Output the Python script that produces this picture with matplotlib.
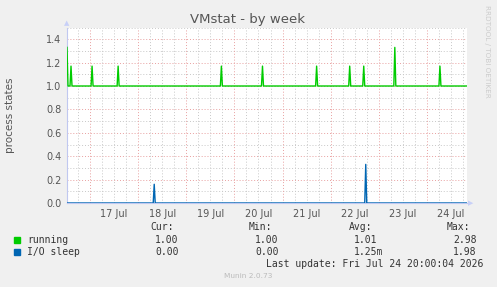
import pandas as pd
import matplotlib
matplotlib.use("Agg")
import matplotlib.pyplot as plt
import matplotlib.dates as mdates

W, H = 497, 287

# sampled every 30 minutes, baseline values with a few short spikes
start = "2026-07-16 12:30"
end = "2026-07-24 20:00"
running_base = 1.0
running_spike_times = ["2026-07-16 12:30", "2026-07-16 14:30", "2026-07-17 01:00",
                       "2026-07-17 14:00", "2026-07-19 17:30", "2026-07-20 14:00",
                       "2026-07-21 17:00", "2026-07-22 09:30", "2026-07-22 16:30",
                       "2026-07-23 08:00", "2026-07-24 06:30"]
running_spike_vals = [1.33, 1.17, 1.17, 1.17, 1.17, 1.17, 1.17, 1.17, 1.17, 1.33, 1.17]
io_base = 0.0
io_spike_times = ["2026-07-18 08:00", "2026-07-22 17:30"]
io_spike_vals = [0.16, 0.33]

day_labels = ["17 Jul", "18 Jul", "19 Jul", "20 Jul", "21 Jul", "22 Jul", "23 Jul", "24 Jul"]
day_dates = ["2026-07-17", "2026-07-18", "2026-07-19", "2026-07-20",
             "2026-07-21", "2026-07-22", "2026-07-23", "2026-07-24"]

legend_names = ["running", "I/O sleep"]
legend_colors = ["#00CC00", "#0066B3"]
cur_vals = ["1.00", "0.00"]
min_vals = ["1.00", "0.00"]
avg_vals = ["1.01", "1.25m"]
max_vals = ["2.98", "1.98"]

# build the series
t = pd.date_range(start, end, freq="30min")
running = pd.Series(running_base, index=t)
running[pd.to_datetime(running_spike_times)] = running_spike_vals
io = pd.Series(io_base, index=t)
io[pd.to_datetime(io_spike_times)] = io_spike_vals


def fx(x):
    return x / W


def fy(y):
    return 1 - y / H


fig = plt.figure(figsize=(W / 100, H / 100), dpi=100, facecolor="#F0F0F0")
ax = fig.add_axes([fx(67), fy(203), (467 - 67) / W, (203 - 27.5) / H])
ax.set_facecolor("white")

x0 = pd.Timestamp(start)
x1 = pd.Timestamp(end)
ax.set_xlim(x0, x1)
ax.set_ylim(0, 1.5)

# grid: minor gray, major red
for v in [0.1, 0.3, 0.5, 0.7, 0.9, 1.1, 1.3, 1.5]:
    ax.axhline(v, color="#C8C8C8", lw=0.7, ls=(0, (1, 2)), zorder=1)
for v in [0.2, 0.4, 0.6, 0.8, 1.0, 1.2, 1.4]:
    ax.axhline(v, color="#E8A0A0", lw=0.7, ls=(0, (1, 2)), zorder=1)
for ts in pd.date_range("2026-07-16 18:00", end, freq="6h"):
    c = "#E8A0A0" if ts.hour == 0 else "#C8C8C8"
    ax.axvline(ts, color=c, lw=0.7, ls=(0, (1, 2)), zorder=1)

ax.plot(running.index, running.values, color=legend_colors[0], lw=1.0, zorder=3)
ax.plot(io.index, io.values, color=legend_colors[1], lw=1.0, zorder=3)

# ticks
noon = [pd.Timestamp(d) + pd.Timedelta(hours=12) for d in day_dates]
ax.set_xticks(noon)
ax.set_xticklabels(day_labels)
ax.set_yticks([0.0, 0.2, 0.4, 0.6, 0.8, 1.0, 1.2, 1.4])
ax.set_yticklabels(["0.0", "0.2", "0.4", "0.6", "0.8", "1.0", "1.2", "1.4"])
ax.tick_params(axis="both", length=0, labelsize=7, labelcolor="#555555", pad=4)

for s in ["top", "right"]:
    ax.spines[s].set_visible(False)
for s in ["left", "bottom"]:
    ax.spines[s].set_color("#C0C8F0")
    ax.spines[s].set_linewidth(0.8)

# axis arrows
fig.text(fx(67), fy(23), "\u25b2", color="#C8D0F8", fontsize=5, ha="center", va="center")
fig.text(fx(471), fy(203), "\u25b6", color="#C8D0F8", fontsize=5, ha="center", va="center")

fig.text(fx(248), fy(19), "VMstat - by week", fontsize=9.5, color="#555555",
         ha="center", va="center")
fig.text(fx(10), fy(115), "process states", fontsize=7.5, color="#555555",
         rotation=90, ha="center", va="center")
fig.text(fx(487), fy(5), "RRDTOOL / TOBI OETIKER", fontsize=5.2, color="#CCCCCC",
         rotation=270, ha="center", va="top")

# legend table
mono = "DejaVu Sans Mono"
fs = 7
tc = "#333333"
for x, lab in zip([150, 249, 349, 447], ["Cur:", "Min:", "Avg:", "Max:"]):
    fig.text(fx(x), fy(227), lab, family=mono, fontsize=fs, color=tc, ha="left", va="center")
for i, name in enumerate(legend_names):
    y = 240 + i * 12
    fig.patches.append(plt.Rectangle((fx(14), fy(y + 3)), 6 / W, 6 / H,
                                     transform=fig.transFigure, color=legend_colors[i]))
    fig.text(fx(27), fy(y), name, family=mono, fontsize=fs, color=tc, ha="left", va="center")
    for x, vals in zip([155, 255, 354, 453], [cur_vals, min_vals, avg_vals, max_vals]):
        fig.text(fx(x), fy(y), vals[i], family=mono, fontsize=fs, color=tc,
                 ha="left", va="center")
fig.text(fx(483), fy(264), "Last update: Fri Jul 24 20:00:04 2026", family=mono,
         fontsize=fs, color=tc, ha="right", va="center")
fig.text(fx(248), fy(276), "Munin 2.0.73", fontsize=5.3, color="#BBBBBB",
         ha="center", va="center")

fig.savefig("out.png", dpi=100, facecolor=fig.get_facecolor())
